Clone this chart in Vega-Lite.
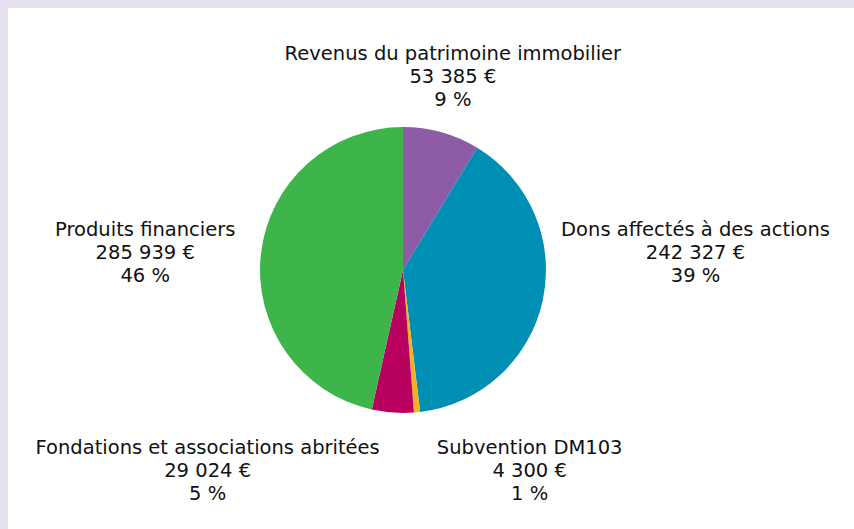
{
  "$schema": "https://vega.github.io/schema/vega-lite/v6.json",
  "width": 846,
  "height": 521,
  "autosize": {"type": "none"},
  "padding": {"left": 8, "top": 8, "right": 0, "bottom": 0},
  "background": "#e6dfee",
  "view": {"fill": "white", "stroke": null},
  "config": {"view": {"fill": "white", "stroke": null}},
  "data": {
    "values": [
      {"rang": 1, "categorie": "Revenus du patrimoine immobilier", "montant": 53385, "pourcentage": 9, "etiquette": "Revenus du patrimoine immobilier\n53 385 €\n9 %"},
      {"rang": 2, "categorie": "Dons affectés à des actions", "montant": 242327, "pourcentage": 39, "etiquette": "Dons affectés à des actions\n242 327 €\n39 %"},
      {"rang": 3, "categorie": "Subvention DM103", "montant": 4300, "pourcentage": 1, "etiquette": "Subvention DM103\n4 300 €\n1 %"},
      {"rang": 4, "categorie": "Fondations et associations abritées", "montant": 29024, "pourcentage": 5, "etiquette": "Fondations et associations abritées\n29 024 €\n5 %"},
      {"rang": 5, "categorie": "Produits financiers", "montant": 285939, "pourcentage": 46, "etiquette": "Produits financiers\n285 939 €\n46 %"}
    ]
  },
  "encoding": {
    "theta": {"field": "montant", "type": "quantitative", "stack": true},
    "order": {"field": "rang", "type": "quantitative"}
  },
  "layer": [
    {
      "mark": {"type": "arc", "outerRadius": 143, "x": 395, "y": 262},
      "encoding": {
        "color": {
          "field": "categorie",
          "type": "nominal",
          "scale": {
            "domain": ["Revenus du patrimoine immobilier", "Dons affectés à des actions", "Subvention DM103", "Fondations et associations abritées", "Produits financiers"],
            "range": ["#8e5ba6", "#008fb4", "#f0b323", "#b8005f", "#3db54a"]
          },
          "legend": null
        }
      }
    },
    {
      "mark": {"type": "text", "radius": 200, "x": 395, "y": 262, "dx": -4, "dy": -23, "font": "DejaVu Sans", "fontSize": 19.5, "lineBreak": "\n", "lineHeight": 22.8, "align": "center", "baseline": "middle", "color": "#111111"},
      "encoding": {"text": {"condition": {"test": "datum.rang === 1", "field": "etiquette"}, "value": ""}}
    },
    {
      "mark": {"type": "text", "radius": 200, "x": 395, "y": 262, "dx": 97, "dy": -82, "font": "DejaVu Sans", "fontSize": 19.5, "lineBreak": "\n", "lineHeight": 22.8, "align": "center", "baseline": "middle", "color": "#111111"},
      "encoding": {"text": {"condition": {"test": "datum.rang === 2", "field": "etiquette"}, "value": ""}}
    },
    {
      "mark": {"type": "text", "radius": 200, "x": 395, "y": 262, "dx": 107, "dy": -21, "font": "DejaVu Sans", "fontSize": 19.5, "lineBreak": "\n", "lineHeight": 22.8, "align": "center", "baseline": "middle", "color": "#111111"},
      "encoding": {"text": {"condition": {"test": "datum.rang === 3", "field": "etiquette"}, "value": ""}}
    },
    {
      "mark": {"type": "text", "radius": 200, "x": 395, "y": 262, "dx": -181, "dy": -21, "font": "DejaVu Sans", "fontSize": 19.5, "lineBreak": "\n", "lineHeight": 22.8, "align": "center", "baseline": "middle", "color": "#111111"},
      "encoding": {"text": {"condition": {"test": "datum.rang === 4", "field": "etiquette"}, "value": ""}}
    },
    {
      "mark": {"type": "text", "radius": 200, "x": 395, "y": 262, "dx": -59, "dy": -18, "font": "DejaVu Sans", "fontSize": 19.5, "lineBreak": "\n", "lineHeight": 22.8, "align": "center", "baseline": "middle", "color": "#111111"},
      "encoding": {"text": {"condition": {"test": "datum.rang === 5", "field": "etiquette"}, "value": ""}}
    }
  ]
}
